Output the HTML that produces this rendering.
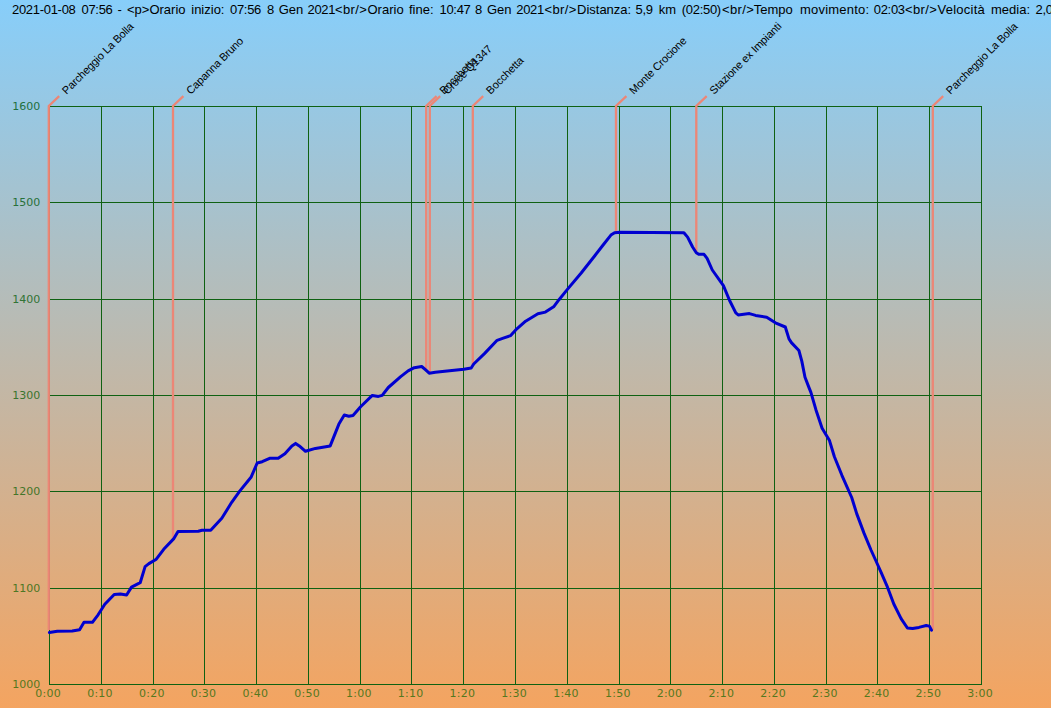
<!DOCTYPE html>
<html><head><meta charset="utf-8"><title>Profilo altimetrico</title>
<style>
html,body{margin:0;padding:0;background:#f4a460;}
body{width:1051px;height:708px;overflow:hidden;}
svg{display:block;}
.t{font-family:"Liberation Sans",Arial,sans-serif;font-size:13px;fill:#000;}
.l{font-family:"Liberation Sans",Arial,sans-serif;font-size:11px;fill:#000;letter-spacing:-0.15px;}
.a{font-family:"DejaVu Sans",Verdana,sans-serif;font-size:11px;}
</style></head><body>
<svg width="1051" height="708" viewBox="0 0 1051 708">
<defs><linearGradient id="bg" x1="0" y1="0" x2="0" y2="1">
<stop offset="0" stop-color="#87cefa"/><stop offset="1" stop-color="#f4a460"/></linearGradient></defs>
<rect x="0" y="0" width="1051" height="708" fill="url(#bg)"/>

<g stroke="#0f6112" stroke-width="1" fill="none" shape-rendering="crispEdges">
<line x1="49.50" y1="106.5" x2="49.50" y2="684.5"/>
<line x1="101.50" y1="106.5" x2="101.50" y2="684.5"/>
<line x1="153.50" y1="106.5" x2="153.50" y2="684.5"/>
<line x1="204.50" y1="106.5" x2="204.50" y2="684.5"/>
<line x1="256.50" y1="106.5" x2="256.50" y2="684.5"/>
<line x1="308.50" y1="106.5" x2="308.50" y2="684.5"/>
<line x1="360.50" y1="106.5" x2="360.50" y2="684.5"/>
<line x1="411.50" y1="106.5" x2="411.50" y2="684.5"/>
<line x1="463.50" y1="106.5" x2="463.50" y2="684.5"/>
<line x1="515.50" y1="106.5" x2="515.50" y2="684.5"/>
<line x1="567.50" y1="106.5" x2="567.50" y2="684.5"/>
<line x1="619.50" y1="106.5" x2="619.50" y2="684.5"/>
<line x1="670.50" y1="106.5" x2="670.50" y2="684.5"/>
<line x1="722.50" y1="106.5" x2="722.50" y2="684.5"/>
<line x1="774.50" y1="106.5" x2="774.50" y2="684.5"/>
<line x1="826.50" y1="106.5" x2="826.50" y2="684.5"/>
<line x1="877.50" y1="106.5" x2="877.50" y2="684.5"/>
<line x1="929.50" y1="106.5" x2="929.50" y2="684.5"/>
<line x1="981.50" y1="106.5" x2="981.50" y2="684.5"/>
<line x1="49.5" y1="106.50" x2="981.5" y2="106.50"/>
<line x1="49.5" y1="202.50" x2="981.5" y2="202.50"/>
<line x1="49.5" y1="299.50" x2="981.5" y2="299.50"/>
<line x1="49.5" y1="395.50" x2="981.5" y2="395.50"/>
<line x1="49.5" y1="491.50" x2="981.5" y2="491.50"/>
<line x1="49.5" y1="588.50" x2="981.5" y2="588.50"/>
<line x1="49.5" y1="684.50" x2="981.5" y2="684.50"/>
</g>
<g stroke="#ec8676" stroke-width="2.3" fill="none" stroke-linejoin="miter">
<polyline points="48.8,630.1 48.8,106.0 59.2,96.2"/>
<polyline points="173.0,539.5 173.0,106.0 183.4,96.2"/>
<polyline points="426.2,370.4 426.2,106.0 436.6,96.2"/>
<polyline points="429.8,373.1 429.8,106.0 440.2,96.2"/>
<polyline points="472.8,365.4 472.8,106.0 483.2,96.2"/>
<polyline points="616.0,232.6 616.0,106.0 626.4,96.2"/>
<polyline points="696.3,252.7 696.3,106.0 706.7,96.2"/>
<polyline points="932.8,630.1 932.8,106.0 943.2,96.2"/>
</g>
<polyline fill="none" stroke="#0000d0" stroke-width="3" stroke-linejoin="round" stroke-linecap="round" points="49.4,632.6 57.3,631.2 72.2,630.9 79.6,629.7 84.0,622.3 92.4,622.3 98.1,614.8 104.8,604.2 114.2,594.5 120.4,594.0 126.6,595.0 131.5,587.1 140.2,582.7 145.1,566.6 148.9,563.6 156.3,559.2 163.7,549.3 173.6,538.9 178.0,531.5 198.3,531.2 202.0,530.2 210.7,530.2 221.8,518.3 231.7,502.3 239.9,490.9 251.0,477.3 257.2,463.0 262.2,461.7 269.6,458.3 278.2,458.3 284.9,453.8 291.9,445.9 295.6,443.4 299.3,445.9 305.5,451.3 315.4,448.4 330.2,445.9 338.9,424.1 344.3,415.0 348.8,416.2 353.0,415.5 360.6,406.8 372.3,395.4 378.4,396.4 382.2,395.4 388.3,387.5 400.7,376.6 408.1,370.9 414.3,367.7 421.7,366.5 425.4,369.7 429.2,373.2 435.3,372.2 463.8,369.2 471.2,368.0 473.7,364.0 484.7,353.4 497.1,340.3 503.3,338.1 510.7,335.6 515.7,329.9 525.6,321.2 537.9,313.8 545.4,312.1 554.0,306.4 559.0,299.7 567.6,289.1 581.2,273.0 594.8,255.7 603.5,244.5 610.9,235.1 614.6,232.7 619.6,232.2 683.9,232.7 687.6,237.1 692.6,247.0 696.3,252.7 698.7,254.3 704.0,254.3 707.1,258.3 712.3,270.0 723.4,285.7 729.6,300.5 735.8,312.9 738.2,314.9 749.4,313.6 755.6,315.4 766.7,317.3 775.4,322.8 785.3,327.0 789.0,338.9 791.4,342.6 798.9,350.5 801.8,361.1 805.0,377.2 808.8,387.1 810.9,392.4 815.9,409.7 822.1,428.2 829.5,440.6 834.4,456.7 841.9,475.3 851.7,497.5 856.7,513.6 864.1,533.4 871.0,550.0 876.0,561.0 881.2,572.6 887.5,587.2 893.8,604.0 901.1,618.6 907.4,628.0 912.6,628.5 918.9,627.4 926.2,625.5 929.4,626.1 931.5,630.1"/>
<text class="l" transform="translate(59.2,96.1) rotate(-45)" x="6.1" y="4.4">Parcheggio La Bolla</text>
<text class="l" transform="translate(183.4,96.1) rotate(-45)" x="6.1" y="4.4">Capanna Bruno</text>
<text class="l" transform="translate(436.6,96.1) rotate(-45)" x="6.1" y="4.4">Bocchetta</text>
<text class="l" transform="translate(440.2,96.1) rotate(-45)" x="6.1" y="4.4">Croce Q1347</text>
<text class="l" transform="translate(483.2,96.1) rotate(-45)" x="6.1" y="4.4">Bocchetta</text>
<text class="l" transform="translate(626.4,96.1) rotate(-45)" x="6.1" y="4.4">Monte Crocione</text>
<text class="l" transform="translate(706.7,96.1) rotate(-45)" x="6.1" y="4.4">Stazione ex Impianti</text>
<text class="l" transform="translate(943.2,96.1) rotate(-45)" x="6.1" y="4.4">Parcheggio La Bolla</text>
<text class="a" x="40.2" y="109.8" text-anchor="end" fill="#1f7040">1600</text>
<text class="a" x="40.2" y="206.1" text-anchor="end" fill="#28713a">1500</text>
<text class="a" x="40.2" y="302.5" text-anchor="end" fill="#317335">1400</text>
<text class="a" x="40.2" y="398.8" text-anchor="end" fill="#3a742f">1300</text>
<text class="a" x="40.2" y="495.1" text-anchor="end" fill="#437529">1200</text>
<text class="a" x="40.2" y="591.5" text-anchor="end" fill="#4c7724">1100</text>
<text class="a" x="40.2" y="687.8" text-anchor="end" fill="#55781e">1000</text>
<text class="a" x="48.2" y="697" text-anchor="middle" fill="#55781e" letter-spacing="0.25">0:00</text>
<text class="a" x="100.0" y="697" text-anchor="middle" fill="#55781e" letter-spacing="0.25">0:10</text>
<text class="a" x="151.8" y="697" text-anchor="middle" fill="#55781e" letter-spacing="0.25">0:20</text>
<text class="a" x="203.5" y="697" text-anchor="middle" fill="#55781e" letter-spacing="0.25">0:30</text>
<text class="a" x="255.3" y="697" text-anchor="middle" fill="#55781e" letter-spacing="0.25">0:40</text>
<text class="a" x="307.1" y="697" text-anchor="middle" fill="#55781e" letter-spacing="0.25">0:50</text>
<text class="a" x="358.9" y="697" text-anchor="middle" fill="#55781e" letter-spacing="0.25">1:00</text>
<text class="a" x="410.6" y="697" text-anchor="middle" fill="#55781e" letter-spacing="0.25">1:10</text>
<text class="a" x="462.4" y="697" text-anchor="middle" fill="#55781e" letter-spacing="0.25">1:20</text>
<text class="a" x="514.2" y="697" text-anchor="middle" fill="#55781e" letter-spacing="0.25">1:30</text>
<text class="a" x="566.0" y="697" text-anchor="middle" fill="#55781e" letter-spacing="0.25">1:40</text>
<text class="a" x="617.8" y="697" text-anchor="middle" fill="#55781e" letter-spacing="0.25">1:50</text>
<text class="a" x="669.5" y="697" text-anchor="middle" fill="#55781e" letter-spacing="0.25">2:00</text>
<text class="a" x="721.3" y="697" text-anchor="middle" fill="#55781e" letter-spacing="0.25">2:10</text>
<text class="a" x="773.1" y="697" text-anchor="middle" fill="#55781e" letter-spacing="0.25">2:20</text>
<text class="a" x="824.9" y="697" text-anchor="middle" fill="#55781e" letter-spacing="0.25">2:30</text>
<text class="a" x="876.6" y="697" text-anchor="middle" fill="#55781e" letter-spacing="0.25">2:40</text>
<text class="a" x="928.4" y="697" text-anchor="middle" fill="#55781e" letter-spacing="0.25">2:50</text>
<text class="a" x="980.2" y="697" text-anchor="middle" fill="#55781e" letter-spacing="0.25">3:00</text>
<text class="t" y="14.4"><tspan x="12" letter-spacing="-0.3">2021-01-08</tspan> <tspan x="81.5" letter-spacing="-0.3">07:56</tspan> <tspan x="117.5" letter-spacing="-0.3">-</tspan> <tspan x="127" letter-spacing="0">&lt;p&gt;Orario</tspan> <tspan x="191.25" letter-spacing="0">inizio:</tspan> <tspan x="230" letter-spacing="-0.3">07:56</tspan> <tspan x="267" letter-spacing="-0.3">8</tspan> <tspan x="278.75" letter-spacing="0">Gen</tspan> <tspan x="307.5" letter-spacing="-0.3">2021</tspan><tspan x="335" letter-spacing="0.4">&lt;br/&gt;</tspan><tspan x="367.5" letter-spacing="0">Orario</tspan> <tspan x="409" letter-spacing="0">fine:</tspan> <tspan x="439.5" letter-spacing="-0.3">10:47</tspan> <tspan x="475" letter-spacing="-0.3">8</tspan> <tspan x="487" letter-spacing="0">Gen</tspan> <tspan x="516.25" letter-spacing="-0.3">2021</tspan><tspan x="544.5" letter-spacing="0.4">&lt;br/&gt;</tspan><tspan x="577" letter-spacing="0">Distanza:</tspan> <tspan x="635.5" letter-spacing="-0.3">5,9</tspan> <tspan x="658.75" letter-spacing="0">km</tspan> <tspan x="681.75" letter-spacing="-0.3">(02:50)</tspan><tspan x="722" letter-spacing="0.4">&lt;br/&gt;</tspan><tspan x="753.75" letter-spacing="0">Tempo</tspan> <tspan x="800" letter-spacing="0.2">movimento:</tspan> <tspan x="873.75" letter-spacing="-0.3">02:03</tspan><tspan x="905" letter-spacing="0.4">&lt;br/&gt;</tspan><tspan x="937.5" letter-spacing="0.25">Velocità</tspan> <tspan x="991" letter-spacing="0">media:</tspan> <tspan x="1035.5" letter-spacing="-0.3">2,0</tspan> <tspan x="1057" letter-spacing="0">km/h</tspan></text>
</svg></body></html>
